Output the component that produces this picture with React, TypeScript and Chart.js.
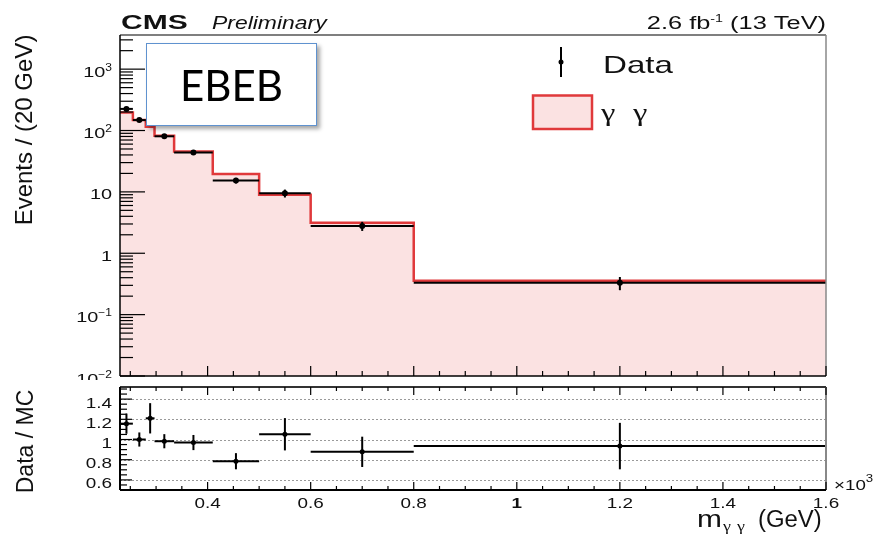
import React, { useEffect, useRef } from "react";
import { Chart, registerables } from "chart.js";

Chart.register(...registerables);

// Diphoton invariant-mass spectrum, EBEB category (mass axis in units of 10^3 GeV)
const binEdges = [0.23, 0.255, 0.28, 0.297, 0.335, 0.41, 0.5, 0.6, 0.8, 1.6];
const mcYield = [196, 149, 115, 82, 45.5, 19.5, 9.0, 3.15, 0.355];
const dataYield = [225, 148, 139, 80.5, 44, 15.3, 9.5, 2.78, 0.33];
const dataErr = [19, 10, 17, 6, 3.4, 1.6, 1.4, 0.47, 0.08];
const ratioVal = [1.157, 1.0, 1.21, 0.983, 0.97, 0.785, 1.052, 0.878, 0.935];
const ratioErr = [0.1, 0.07, 0.15, 0.07, 0.075, 0.08, 0.16, 0.15, 0.23];

const eventTicks = [0.01, 0.1, 1, 10, 100, 1000];
const ratioTicks = [0.6, 0.8, 1.0, 1.2, 1.4];
const ratioTickLabels = ["0.6", "0.8", "1", "1.2", "1.4"];
const massTicks = [0.4, 0.6, 0.8, 1, 1.2, 1.4, 1.6];
const massTickLabels = ["0.4", "0.6", "0.8", "1", "1.2", "1.4", "1.6"];

const X_MIN = 0.23;
const X_MAX = 1.6;
const Y_MIN = 0.01;
const Y_MAX = 3600;
const R_MIN = 0.5;
const R_MAX = 1.52;

const SANS = '"Liberation Sans", Arial, Helvetica, sans-serif';
const SERIF = '"Liberation Serif", "DejaVu Serif", serif';
const RED = "#e0393b";
const PINK = "#fbe2e2";

type Align = "left" | "right" | "center";

// Draws text horizontally widened by sx (ROOT-style wide glyphs)
function wideText(
  ctx: CanvasRenderingContext2D,
  text: string,
  x: number,
  y: number,
  font: string,
  sx: number,
  align: Align = "left"
): number {
  ctx.save();
  ctx.font = font;
  const w = ctx.measureText(text).width * sx;
  let x0 = x;
  if (align === "right") x0 = x - w;
  else if (align === "center") x0 = x - w / 2;
  ctx.translate(x0, y);
  ctx.scale(sx, 1);
  ctx.textAlign = "left";
  ctx.textBaseline = "alphabetic";
  ctx.fillStyle = "#111";
  ctx.fillText(text, 0, 0);
  ctx.restore();
  return w;
}

function measureWide(ctx: CanvasRenderingContext2D, text: string, font: string, sx: number) {
  ctx.save();
  ctx.font = font;
  const w = ctx.measureText(text).width * sx;
  ctx.restore();
  return w;
}

// Power-of-ten label, right aligned at xr
function powerLabel(ctx: CanvasRenderingContext2D, v: number, xr: number, yb: number) {
  const e = Math.round(Math.log10(v));
  const base = `14px ${SANS}`;
  const sup = `10px ${SANS}`;
  if (e === 0) {
    wideText(ctx, "1", xr, yb, base, 1.42, "right");
    return;
  }
  if (e === 1) {
    wideText(ctx, "10", xr, yb, base, 1.42, "right");
    return;
  }
  const s = e < 0 ? "\u2212" + String(-e) : String(e);
  const ws = measureWide(ctx, s, sup, 1.2);
  const wb = measureWide(ctx, "10", base, 1.42);
  wideText(ctx, "10", xr - ws - wb, yb, base, 1.42, "left");
  wideText(ctx, s, xr - ws, yb - 6, sup, 1.2, "left");
}

function line(ctx: CanvasRenderingContext2D, x1: number, y1: number, x2: number, y2: number) {
  ctx.beginPath();
  ctx.moveTo(x1, y1);
  ctx.lineTo(x2, y2);
  ctx.stroke();
}

function binCenters() {
  return mcYield.map((_, i) => (binEdges[i] + binEdges[i + 1]) / 2);
}

const topPlugin = {
  id: "topPanel",
  afterDatasetsDraw(chart: any) {
    const ctx = chart.ctx as CanvasRenderingContext2D;
    const xs = chart.scales.x;
    const ys = chart.scales.y;
    ctx.save();
    ctx.strokeStyle = "#000";
    ctx.lineWidth = 2;
    dataYield.forEach((v, i) => {
      const y = ys.getPixelForValue(v);
      line(ctx, xs.getPixelForValue(binEdges[i]), y, xs.getPixelForValue(binEdges[i + 1]), y);
      const xc = xs.getPixelForValue((binEdges[i] + binEdges[i + 1]) / 2);
      line(ctx, xc, ys.getPixelForValue(v + dataErr[i]), xc, ys.getPixelForValue(v - dataErr[i]));
    });
    ctx.restore();
  },
  afterDraw(chart: any) {
    const ctx = chart.ctx as CanvasRenderingContext2D;
    const xs = chart.scales.x;
    const ys = chart.scales.y;
    const { left, right, top, bottom } = chart.chartArea;
    ctx.save();

    // frame
    ctx.lineWidth = 1.5;
    ctx.strokeStyle = "#555";
    line(ctx, left, top, right, top);
    ctx.strokeStyle = "#888";
    line(ctx, right, top, right, bottom);
    ctx.strokeStyle = "#000";
    line(ctx, left, top, left, bottom);
    line(ctx, left, bottom, right, bottom);

    // y ticks (inside)
    ctx.lineWidth = 1.2;
    for (let e = -2; e <= 3; e++) {
      for (let k = 1; k <= 9; k++) {
        const v = k * Math.pow(10, e);
        if (v > Y_MAX) break;
        const y = ys.getPixelForValue(v);
        line(ctx, left, y, left + (k === 1 ? 25 : 13), y);
      }
    }
    // x ticks along bottom
    for (let k = 5; k <= 32; k++) {
      const x = xs.getPixelForValue(k * 0.05);
      line(ctx, x, bottom, x, bottom - (k % 4 === 0 ? 10 : 5));
    }

    // y tick labels
    eventTicks.forEach((v) => powerLabel(ctx, v, 112, ys.getPixelForValue(v) + 7.5));

    // y title
    ctx.save();
    ctx.translate(32, 130);
    ctx.rotate(-Math.PI / 2);
    ctx.font = `24px ${SANS}`;
    ctx.fillStyle = "#111";
    ctx.textAlign = "center";
    ctx.textBaseline = "alphabetic";
    ctx.fillText("Events / (20 GeV)", 0, 0);
    ctx.restore();

    // header texts
    wideText(ctx, "CMS", 121, 29, `bold 20px ${SANS}`, 1.5, "left");
    wideText(ctx, "Preliminary", 212, 28.5, `italic 17.5px ${SANS}`, 1.31, "left");
    // luminosity label, right aligned at the frame edge
    const f1 = `17.5px ${SANS}`;
    const f2 = `11px ${SANS}`;
    const wA = measureWide(ctx, "2.6 fb", f1, 1.45);
    const wB = measureWide(ctx, "-1", f2, 1.3);
    const wC = measureWide(ctx, " (13 TeV)", f1, 1.45);
    let lx = 826 - (wA + wB + wC);
    wideText(ctx, "2.6 fb", lx, 29, f1, 1.45);
    lx += wA;
    wideText(ctx, "-1", lx, 22, f2, 1.3);
    lx += wB;
    wideText(ctx, " (13 TeV)", lx, 29, f1, 1.45);

    // legend
    ctx.strokeStyle = "#000";
    ctx.lineWidth = 2;
    line(ctx, 561, 47, 561, 77);
    ctx.fillStyle = "#000";
    ctx.beginPath();
    ctx.arc(561, 62, 2.5, 0, Math.PI * 2);
    ctx.fill();
    wideText(ctx, "Data", 603, 73, `24px ${SANS}`, 1.38, "left");

    ctx.fillStyle = PINK;
    ctx.fillRect(533, 95.5, 59, 33.5);
    ctx.strokeStyle = RED;
    ctx.lineWidth = 2.5;
    ctx.strokeRect(533, 95.5, 59, 33.5);
    wideText(ctx, "\u03b3", 601, 121, `26px ${SERIF}`, 1.25, "left");
    wideText(ctx, "\u03b3", 633, 121, `26px ${SERIF}`, 1.25, "left");

    ctx.restore();
  },
};

const bottomPlugin = {
  id: "ratioPanel",
  beforeDatasetsDraw(chart: any) {
    const ctx = chart.ctx as CanvasRenderingContext2D;
    const ys = chart.scales.y;
    const { left, right } = chart.chartArea;
    ctx.save();
    ctx.strokeStyle = "#9a9a9a";
    ctx.lineWidth = 1;
    ctx.setLineDash([2, 2]);
    ratioTicks.forEach((v) => {
      const y = Math.round(ys.getPixelForValue(v)) + 0.5;
      line(ctx, left, y, right, y);
    });
    ctx.restore();
  },
  afterDatasetsDraw(chart: any) {
    const ctx = chart.ctx as CanvasRenderingContext2D;
    const xs = chart.scales.x;
    const ys = chart.scales.y;
    ctx.save();
    ctx.strokeStyle = "#000";
    ctx.lineWidth = 2;
    ratioVal.forEach((v, i) => {
      const y = ys.getPixelForValue(v);
      line(ctx, xs.getPixelForValue(binEdges[i]), y, xs.getPixelForValue(binEdges[i + 1]), y);
      const xc = xs.getPixelForValue((binEdges[i] + binEdges[i + 1]) / 2);
      line(ctx, xc, ys.getPixelForValue(v + ratioErr[i]), xc, ys.getPixelForValue(v - ratioErr[i]));
    });
    ctx.restore();
  },
  afterDraw(chart: any) {
    const ctx = chart.ctx as CanvasRenderingContext2D;
    const xs = chart.scales.x;
    const ys = chart.scales.y;
    const { left, right, top, bottom } = chart.chartArea;
    ctx.save();

    // frame
    ctx.lineWidth = 2;
    ctx.strokeStyle = "#333";
    line(ctx, left, top, right, top);
    ctx.strokeStyle = "#888";
    line(ctx, right, top, right, bottom);
    ctx.strokeStyle = "#000";
    line(ctx, left, top, left, bottom);
    line(ctx, left, bottom, right, bottom);

    // y ticks
    ctx.lineWidth = 1.2;
    for (let k = 10; k <= 30; k++) {
      const y = ys.getPixelForValue(k * 0.05);
      line(ctx, left, y, left + (k % 4 === 0 ? 12 : 7), y);
    }
    // x ticks on top and bottom edges
    for (let k = 5; k <= 32; k++) {
      const x = xs.getPixelForValue(k * 0.05);
      const len = k % 4 === 0 ? 8 : 4;
      line(ctx, x, top, x, top + len);
      line(ctx, x, bottom, x, bottom - len);
    }

    // tick labels
    const tf = `14px ${SANS}`;
    ratioTicks.forEach((v, i) => wideText(ctx, ratioTickLabels[i], 112, ys.getPixelForValue(v) + 8.5, tf, 1.35, "right"));
    massTicks.forEach((v, i) =>
      wideText(ctx, massTickLabels[i], xs.getPixelForValue(v), 128, massTickLabels[i] === "1" ? `bold 14px ${SANS}` : tf, 1.35, "center")
    );
    // axis exponent
    const w10 = wideText(ctx, "\u00d710", 834, 110, `15px ${SANS}`, 1.25, "left");
    wideText(ctx, "3", 834 + w10, 102, `11px ${SANS}`, 1.2, "left");

    // y title
    ctx.save();
    ctx.translate(33, 61.5);
    ctx.rotate(-Math.PI / 2);
    ctx.font = `23px ${SANS}`;
    ctx.fillStyle = "#111";
    ctx.textAlign = "center";
    ctx.textBaseline = "alphabetic";
    ctx.fillText("Data / MC", 0, 0);
    ctx.restore();

    // x title: m_{γγ} (GeV)
    const wm = wideText(ctx, "m", 697, 147, `23px ${SANS}`, 1.3, "left");
    wideText(ctx, "\u03b3", 698 + wm, 151, `15px ${SERIF}`, 1.2, "left");
    wideText(ctx, "\u03b3", 712 + wm, 151, `15px ${SERIF}`, 1.2, "left");
    wideText(ctx, "(GeV)", 758, 147, `23px ${SANS}`, 1.04, "left");

    ctx.restore();
  },
};

export default function App() {
  const topRef = useRef<HTMLCanvasElement>(null);
  const bottomRef = useRef<HTMLCanvasElement>(null);

  useEffect(() => {
    const centers = binCenters();
    const mcPoints = binEdges.map((x, i) => ({ x, y: mcYield[Math.min(i, mcYield.length - 1)] }));
    const dataPoints = centers.map((x, i) => ({ x, y: dataYield[i] }));
    const ratioPoints = centers.map((x, i) => ({ x, y: ratioVal[i] }));

    const topChart = new Chart(topRef.current as HTMLCanvasElement, {
      type: "line",
      data: {
        datasets: [
          {
            label: "Data",
            data: dataPoints,
            showLine: false,
            pointRadius: 3,
            pointBackgroundColor: "#000",
            pointBorderWidth: 0,
            order: 1,
          } as any,
          {
            label: "\u03b3 \u03b3",
            data: mcPoints,
            stepped: "before",
            borderColor: RED,
            borderWidth: 2.5,
            backgroundColor: PINK,
            fill: "start",
            pointRadius: 0,
            order: 2,
          } as any,
        ],
      },
      options: {
        animation: false,
        responsive: false,
        events: [],
        layout: { padding: { left: 120, right: 47, top: 35, bottom: 3 } },
        plugins: { legend: { display: false }, tooltip: { enabled: false } },
        scales: {
          x: { type: "linear", min: X_MIN, max: X_MAX, display: false },
          y: { type: "logarithmic", min: Y_MIN, max: Y_MAX, display: false },
        },
      },
      plugins: [topPlugin],
    });

    const bottomChart = new Chart(bottomRef.current as HTMLCanvasElement, {
      type: "line",
      data: {
        datasets: [
          {
            label: "Data / MC",
            data: ratioPoints,
            showLine: false,
            pointRadius: 2.5,
            pointBackgroundColor: "#000",
            pointBorderWidth: 0,
          } as any,
        ],
      },
      options: {
        animation: false,
        responsive: false,
        events: [],
        layout: { padding: { left: 120, right: 47, top: 7, bottom: 45 } },
        plugins: { legend: { display: false }, tooltip: { enabled: false } },
        scales: {
          x: { type: "linear", min: X_MIN, max: X_MAX, display: false },
          y: { type: "linear", min: R_MIN, max: R_MAX, display: false },
        },
      },
      plugins: [bottomPlugin],
    });

    return () => {
      topChart.destroy();
      bottomChart.destroy();
    };
  }, []);

  return (
    <div
      style={{
        position: "absolute",
        left: 0,
        top: 0,
        width: 873,
        height: 535,
        background: "#fff",
        overflow: "hidden",
      }}
    >
      <canvas ref={topRef} width={873} height={380} style={{ position: "absolute", left: 0, top: 0 }} />
      <canvas ref={bottomRef} width={873} height={155} style={{ position: "absolute", left: 0, top: 380 }} />
      <div
        style={{
          position: "absolute",
          left: 146,
          top: 43,
          width: 171,
          height: 83,
          boxSizing: "border-box",
          border: "1.5px solid #5f92cf",
          background: "#fff",
          boxShadow: "3px 3px 4px rgba(0,0,0,0.35)",
          display: "flex",
          alignItems: "center",
          justifyContent: "center",
          fontFamily: 'Lato, "Open Sans", sans-serif',
          fontSize: 42,
          color: "#000",
          lineHeight: 1,
        }}
      >
        EBEB
      </div>
    </div>
  );
}
